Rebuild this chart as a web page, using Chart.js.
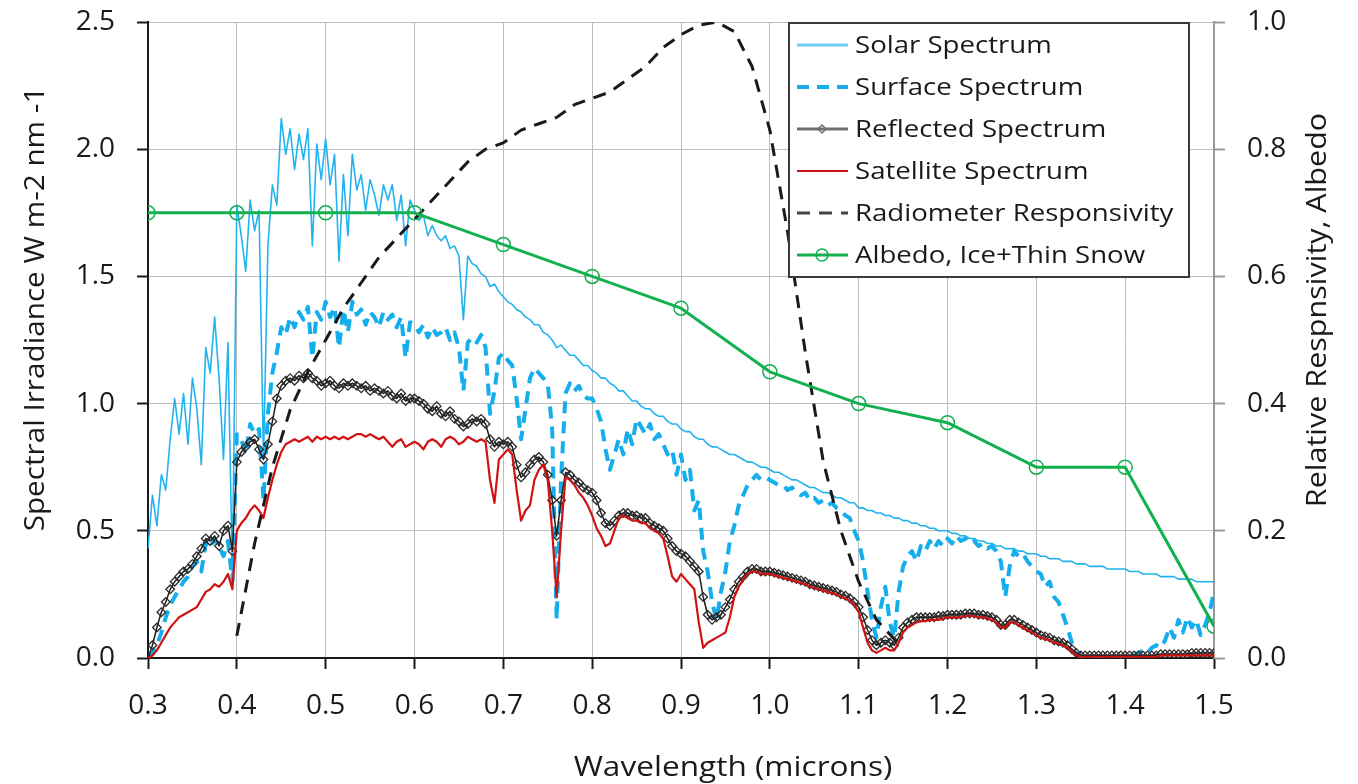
<!DOCTYPE html>
<html>
<head>
<meta charset="utf-8">
<title>Spectra</title>
<script src="https://cdn.jsdelivr.net/npm/chart.js@4.4.1/dist/chart.umd.min.js"></script>
<style>
    html, body { margin: 0; padding: 0; background: #fff; }
    #wrap { width: 1358px; height: 784px; }
</style>
</head>
<body>
<div id="wrap"><canvas id="myChart" width="1358" height="784"></canvas></div>
<script>
// wavelength grid (microns), 0.300 .. 1.500 every 0.005
const wavelengths = [];
for (let i = 0; i <= 240; i++) {
    wavelengths.push(Math.round((0.3 + i * 0.005) * 1000) / 1000);
}

// W m-2 nm-1, one row per 0.1 micron
const solarSpectrum = [
    0.43, 0.64, 0.52, 0.72, 0.66, 0.86, 1.02, 0.88, 1.04, 0.84, 1.10, 0.98, 0.76, 1.22, 1.12, 1.34, 1.10, 0.78, 1.24, 0.32,
    1.78, 1.66, 1.52, 1.80, 1.68, 1.76, 0.78, 1.62, 1.86, 1.78, 2.12, 1.98, 2.08, 1.92, 2.06, 1.96, 2.08, 1.62, 2.02, 1.88,
    2.04, 1.86, 1.98, 1.56, 1.90, 1.66, 1.98, 1.84, 1.90, 1.76, 1.88, 1.82, 1.74, 1.86, 1.80, 1.86, 1.72, 1.82, 1.62, 1.80,
    1.76, 1.72, 1.74, 1.66, 1.70, 1.66, 1.64, 1.66, 1.61, 1.62, 1.58, 1.33, 1.58, 1.55, 1.54, 1.51, 1.50, 1.46, 1.47, 1.44,
    1.42, 1.40, 1.39, 1.37, 1.36, 1.34, 1.33, 1.31, 1.31, 1.28, 1.27, 1.25, 1.22, 1.23, 1.21, 1.19, 1.19, 1.17, 1.15, 1.15,
    1.13, 1.12, 1.10, 1.10, 1.08, 1.07, 1.05, 1.05, 1.03, 1.01, 1.01, 0.99, 0.98, 0.98, 0.96, 0.95, 0.95, 0.93, 0.92, 0.92,
    0.90, 0.89, 0.89, 0.87, 0.86, 0.86, 0.84, 0.83, 0.83, 0.82, 0.81, 0.80, 0.80, 0.79, 0.78, 0.77, 0.77, 0.76, 0.75, 0.75,
    0.74, 0.73, 0.73, 0.72, 0.71, 0.70, 0.70, 0.69, 0.68, 0.67, 0.67, 0.66, 0.65, 0.65, 0.64, 0.63, 0.63, 0.62, 0.61, 0.61,
    0.59, 0.59, 0.58, 0.58, 0.57, 0.57, 0.56, 0.56, 0.55, 0.55, 0.54, 0.54, 0.53, 0.53, 0.52, 0.52, 0.51, 0.51, 0.50, 0.50,
    0.50, 0.49, 0.49, 0.48, 0.48, 0.47, 0.47, 0.46, 0.46, 0.45, 0.45, 0.44, 0.44, 0.43, 0.43, 0.43, 0.42, 0.42, 0.41, 0.41,
    0.41, 0.40, 0.40, 0.39, 0.39, 0.39, 0.38, 0.38, 0.38, 0.37, 0.37, 0.37, 0.36, 0.36, 0.36, 0.36, 0.35, 0.35, 0.35, 0.35,
    0.35, 0.34, 0.34, 0.34, 0.33, 0.33, 0.33, 0.33, 0.32, 0.32, 0.32, 0.32, 0.31, 0.31, 0.31, 0.31, 0.30, 0.30, 0.30, 0.30, 0.30
];

const surfaceSpectrum = [
    0.00, 0.02, 0.05, 0.10, 0.16, 0.21, 0.24, 0.27, 0.30, 0.32, 0.36, 0.38, 0.34, 0.45, 0.43, 0.47, 0.44, 0.40, 0.46, 0.30,
    0.88, 0.86, 0.80, 0.92, 0.88, 0.90, 0.62, 0.96, 1.12, 1.20, 1.30, 1.27, 1.34, 1.30, 1.36, 1.33, 1.38, 1.18, 1.36, 1.33,
    1.40, 1.34, 1.38, 1.22, 1.37, 1.28, 1.40, 1.35, 1.37, 1.31, 1.36, 1.34, 1.30, 1.36, 1.33, 1.35, 1.30, 1.34, 1.18, 1.32,
    1.31, 1.28, 1.31, 1.26, 1.30, 1.27, 1.28, 1.30, 1.25, 1.28, 1.22, 1.05, 1.24, 1.26, 1.24, 1.27, 1.22, 0.96, 1.05, 1.18,
    1.20, 1.17, 1.15, 1.02, 0.86, 0.98, 1.10, 1.14, 1.12, 1.10, 1.08, 0.90, 0.15, 0.70, 1.04, 1.08, 1.05, 1.07, 1.03, 1.02,
    1.02, 0.98, 0.93, 0.82, 0.74, 0.80, 0.86, 0.80, 0.90, 0.84, 0.94, 0.91, 0.88, 0.92, 0.86, 0.88, 0.84, 0.80, 0.82, 0.72,
    0.80, 0.70, 0.74, 0.58, 0.62, 0.42, 0.34, 0.22, 0.15, 0.26, 0.34, 0.46, 0.52, 0.60, 0.64, 0.68, 0.70, 0.72, 0.70, 0.71,
    0.70, 0.69, 0.68, 0.68, 0.66, 0.67, 0.65, 0.64, 0.65, 0.62, 0.63, 0.61, 0.62, 0.60, 0.61, 0.59, 0.58, 0.56, 0.55, 0.50,
    0.46, 0.38, 0.26, 0.15, 0.08, 0.20, 0.28, 0.14, 0.08, 0.26, 0.36, 0.40, 0.42, 0.38, 0.44, 0.42, 0.46, 0.43, 0.46, 0.44,
    0.47, 0.45, 0.48, 0.46, 0.47, 0.45, 0.46, 0.44, 0.45, 0.43, 0.44, 0.42, 0.38, 0.24, 0.36, 0.42, 0.40, 0.41, 0.38, 0.36,
    0.34, 0.33, 0.28, 0.30, 0.24, 0.22, 0.17, 0.12, 0.06, 0.02, 0.00, 0.00, 0.00, 0.00, 0.00, 0.00, 0.00, 0.00, 0.00, 0.00,
    0.00, 0.00, 0.01, 0.02, 0.03, 0.02, 0.04, 0.05, 0.04, 0.07, 0.12, 0.08, 0.15, 0.10, 0.16, 0.12, 0.15, 0.09, 0.13, 0.18, 0.26
];

const reflectedSpectrum = [
    0.00, 0.05, 0.12, 0.18, 0.22, 0.27, 0.30, 0.32, 0.34, 0.35, 0.37, 0.40, 0.43, 0.47, 0.46, 0.48, 0.44, 0.50, 0.52, 0.42,
    0.77, 0.81, 0.83, 0.85, 0.86, 0.82, 0.78, 0.84, 0.93, 1.02, 1.07, 1.09, 1.10, 1.09, 1.11, 1.10, 1.12, 1.10, 1.09, 1.07,
    1.08, 1.09, 1.07, 1.06, 1.08, 1.07, 1.08, 1.07, 1.06, 1.07, 1.05, 1.06, 1.05, 1.04, 1.05, 1.03, 1.02, 1.04, 1.01, 1.02,
    1.02, 1.01, 1.00, 0.98, 0.97, 0.99, 0.96, 0.95, 0.97, 0.94, 0.93, 0.91, 0.92, 0.94, 0.93, 0.94, 0.92, 0.86, 0.83, 0.85,
    0.84, 0.85, 0.83, 0.76, 0.71, 0.73, 0.76, 0.78, 0.79, 0.77, 0.72, 0.62, 0.48, 0.62, 0.73, 0.72, 0.70, 0.69, 0.67, 0.66,
    0.65, 0.62, 0.57, 0.53, 0.52, 0.54, 0.56, 0.57, 0.57, 0.56, 0.56, 0.55, 0.55, 0.53, 0.52, 0.51, 0.50, 0.47, 0.44, 0.42,
    0.41, 0.40, 0.38, 0.36, 0.34, 0.24, 0.17, 0.15, 0.16, 0.17, 0.20, 0.23, 0.27, 0.30, 0.32, 0.34, 0.35, 0.35, 0.34, 0.34,
    0.34, 0.335, 0.33, 0.325, 0.32, 0.315, 0.31, 0.305, 0.30, 0.29, 0.285, 0.28, 0.275, 0.27, 0.265, 0.26, 0.25, 0.245, 0.235, 0.22,
    0.20, 0.16, 0.11, 0.07, 0.05, 0.06, 0.07, 0.06, 0.05, 0.08, 0.12, 0.14, 0.15, 0.16, 0.16, 0.16, 0.16, 0.16, 0.165, 0.165,
    0.17, 0.17, 0.17, 0.17, 0.175, 0.175, 0.175, 0.17, 0.17, 0.165, 0.16, 0.15, 0.13, 0.13, 0.15, 0.15, 0.14, 0.13, 0.12, 0.11,
    0.10, 0.09, 0.085, 0.08, 0.07, 0.065, 0.06, 0.05, 0.035, 0.02, 0.01, 0.01, 0.01, 0.01, 0.01, 0.01, 0.01, 0.01, 0.01, 0.01,
    0.01, 0.01, 0.01, 0.01, 0.01, 0.01, 0.01, 0.01, 0.015, 0.015, 0.015, 0.015, 0.015, 0.015, 0.015, 0.02, 0.02, 0.02, 0.02, 0.02, 0.02
];

const satelliteSpectrum = [
    0.00, 0.01, 0.03, 0.06, 0.09, 0.12, 0.14, 0.16, 0.17, 0.18, 0.19, 0.20, 0.23, 0.26, 0.27, 0.29, 0.28, 0.30, 0.33, 0.27,
    0.50, 0.53, 0.55, 0.58, 0.60, 0.58, 0.55, 0.63, 0.70, 0.76, 0.81, 0.84, 0.85, 0.86, 0.85, 0.86, 0.87, 0.85, 0.87, 0.86,
    0.87, 0.86, 0.87, 0.86, 0.87, 0.86, 0.87, 0.88, 0.88, 0.87, 0.88, 0.87, 0.86, 0.87, 0.85, 0.83, 0.85, 0.86, 0.83, 0.84,
    0.85, 0.84, 0.82, 0.85, 0.86, 0.85, 0.83, 0.86, 0.87, 0.86, 0.84, 0.85, 0.87, 0.86, 0.85, 0.86, 0.85, 0.70, 0.61, 0.78,
    0.80, 0.82, 0.80, 0.66, 0.54, 0.58, 0.60, 0.70, 0.74, 0.76, 0.70, 0.50, 0.24, 0.50, 0.71, 0.70, 0.68, 0.65, 0.63, 0.60,
    0.56, 0.51, 0.48, 0.44, 0.45, 0.50, 0.55, 0.56, 0.55, 0.54, 0.54, 0.53, 0.53, 0.51, 0.50, 0.49, 0.47, 0.40, 0.32, 0.30,
    0.33, 0.31, 0.29, 0.27, 0.14, 0.04, 0.06, 0.07, 0.08, 0.09, 0.10, 0.16, 0.24, 0.28, 0.31, 0.33, 0.34, 0.34, 0.33, 0.33,
    0.33, 0.325, 0.32, 0.315, 0.31, 0.305, 0.30, 0.295, 0.29, 0.28, 0.275, 0.27, 0.265, 0.26, 0.255, 0.25, 0.24, 0.235, 0.225, 0.21,
    0.18, 0.12, 0.06, 0.03, 0.02, 0.03, 0.04, 0.03, 0.03, 0.06, 0.10, 0.12, 0.13, 0.14, 0.145, 0.145, 0.15, 0.15, 0.15, 0.155,
    0.16, 0.16, 0.16, 0.16, 0.165, 0.165, 0.165, 0.16, 0.16, 0.155, 0.15, 0.14, 0.12, 0.12, 0.14, 0.14, 0.13, 0.12, 0.11, 0.10,
    0.09, 0.08, 0.075, 0.07, 0.06, 0.055, 0.05, 0.04, 0.025, 0.01, 0.005, 0.005, 0.005, 0.005, 0.005, 0.005, 0.005, 0.005, 0.005, 0.005,
    0.005, 0.005, 0.005, 0.005, 0.005, 0.005, 0.005, 0.005, 0.01, 0.01, 0.01, 0.01, 0.01, 0.01, 0.01, 0.01, 0.01, 0.01, 0.01, 0.01, 0.01
];

// right axis (0..1)
const radiometerWl = [
    0.40, 0.42, 0.44, 0.46, 0.48, 0.50, 0.52, 0.54, 0.56, 0.58, 0.60, 0.62, 0.64, 0.66, 0.68, 0.70, 0.72, 0.74, 0.76, 0.78,
    0.80, 0.82, 0.84, 0.86, 0.88, 0.90, 0.92, 0.94, 0.96, 0.98, 1.00, 1.02, 1.04, 1.06, 1.08, 1.10, 1.12, 1.14, 1.15
];
const radiometerResp = [
    0.035, 0.18, 0.30, 0.39, 0.45, 0.50, 0.55, 0.59, 0.63, 0.66, 0.69, 0.72, 0.75, 0.78, 0.80, 0.81, 0.83, 0.84, 0.85, 0.87,
    0.88, 0.89, 0.91, 0.93, 0.96, 0.98, 0.995, 1.00, 0.985, 0.93, 0.83, 0.67, 0.48, 0.31, 0.20, 0.12, 0.06, 0.03, 0.02
];

const albedoWl = [0.3, 0.4, 0.5, 0.6, 0.7, 0.8, 0.9, 1.0, 1.1, 1.2, 1.3, 1.4, 1.5];
const albedo = [0.70, 0.70, 0.70, 0.70, 0.65, 0.60, 0.55, 0.45, 0.40, 0.37, 0.30, 0.30, 0.05];

const xTickValues = [0.3, 0.4, 0.5, 0.6, 0.7, 0.8, 0.9, 1.0, 1.1, 1.2, 1.3, 1.4, 1.5];
const yTickValues = [0, 0.5, 1.0, 1.5, 2.0, 2.5];
const y1TickValues = [0, 0.2, 0.4, 0.6, 0.8, 1.0];

const seriesLabels = ['Solar Spectrum', 'Surface Spectrum', 'Reflected Spectrum',
    'Satellite Spectrum', 'Radiometer Responsivity', 'Albedo, Ice+Thin Snow'];

const FONT = '"Open Sans", "DejaVu Sans", sans-serif';

function toPoints(xs, ys) {
    return xs.map((x, i) => ({ x: x, y: ys[i] }));
}

// text a little wider than the font, the original is stretched sideways
function wideText(ctx, text, x, y, stretch) {
    ctx.save();
    ctx.translate(x, y);
    ctx.scale(stretch, 1);
    ctx.fillText(text, 0, 0);
    ctx.restore();
}

// legend drawn inside the plot, top right, like the original
const legendInside = {
    id: 'legendInside',
    afterDatasetsDraw(chart) {
        const { ctx, chartArea } = chart;
        const left = chartArea.right - 425;
        const top = chartArea.top + 1;
        const w = 400, h = 254;

        ctx.save();
        ctx.fillStyle = '#fff';
        ctx.fillRect(left, top, w, h);
        ctx.strokeStyle = '#3a3a3a';
        ctx.lineWidth = 2;
        ctx.strokeRect(left, top, w, h);

        ctx.font = '23px ' + FONT;
        ctx.textBaseline = 'middle';
        ctx.textAlign = 'left';

        chart.data.datasets.forEach((ds, i) => {
            const y = top + 22 + i * 42;
            ctx.strokeStyle = ds.legendColor || ds.borderColor;
            ctx.lineWidth = ds.legendWidth || ds.borderWidth;
            ctx.setLineDash(ds.borderDash || []);
            ctx.beginPath();
            ctx.moveTo(left + 8, y);
            ctx.lineTo(left + 59, y);
            ctx.stroke();
            ctx.setLineDash([]);

            if (ds.pointStyle === 'rectRot') {
                ctx.lineWidth = 1.5;
                ctx.beginPath();
                ctx.moveTo(left + 33, y - 4);
                ctx.lineTo(left + 37, y);
                ctx.lineTo(left + 33, y + 4);
                ctx.lineTo(left + 29, y);
                ctx.closePath();
                ctx.stroke();
            } else if (ds.pointStyle === 'circle') {
                ctx.lineWidth = 1.5;
                ctx.beginPath();
                ctx.arc(left + 33, y, 6, 0, Math.PI * 2);
                ctx.stroke();
            }

            ctx.fillStyle = '#1a1a1a';
            wideText(ctx, ds.label, left + 66, y + 1, 1.2);
        });
        ctx.restore();
    }
};

// axis titles
const axisTitles = {
    id: 'axisTitles',
    afterDraw(chart) {
        const { ctx } = chart;
        ctx.save();
        ctx.fillStyle = '#1a1a1a';
        ctx.font = '27px ' + FONT;
        ctx.textAlign = 'center';
        ctx.textBaseline = 'middle';

        wideText(ctx, 'Wavelength (microns)', 733, 768, 1.17);

        ctx.save();
        ctx.translate(36, 309);
        ctx.rotate(-Math.PI / 2);
        wideText(ctx, 'Spectral Irradiance W m-2 nm -1', 0, 0, 1.1);
        ctx.restore();

        ctx.save();
        ctx.translate(1318, 310);
        ctx.rotate(-Math.PI / 2);
        wideText(ctx, 'Relative Respnsivity, Albedo', 0, 0, 1.13);
        ctx.restore();

        ctx.restore();
    }
};

// fixed axis boxes so the plot sits where the original has it
function fitVertical(width) {
    return (s) => {
        s.width = width;
        s.paddingTop = 0;
        s.paddingBottom = 0;
    };
}

function initChart() {
    const ctx = document.getElementById('myChart');
    const tickFont = { family: FONT, size: 28 };

    const myChart = new Chart(ctx, {
        type: 'line',
        data: {
            datasets: [{
                label: seriesLabels[0],
                data: toPoints(wavelengths, solarSpectrum),
                borderColor: '#22b3ee',
                legendColor: '#6ccdf3',
                legendWidth: 3,
                borderWidth: 1.6,
                pointRadius: 0,
                yAxisID: 'y',
                order: 6
            }, {
                label: seriesLabels[1],
                data: toPoints(wavelengths, surfaceSpectrum),
                borderColor: '#14aeec',
                borderWidth: 4,
                borderDash: [12, 8],
                pointRadius: 0,
                yAxisID: 'y',
                order: 5
            }, {
                label: seriesLabels[2],
                data: toPoints(wavelengths, reflectedSpectrum),
                borderColor: '#1e1e1e',
                legendColor: '#707070',
                legendWidth: 3,
                borderWidth: 1.5,
                pointStyle: 'rectRot',
                pointRadius: 4.3,
                pointBorderWidth: 1.3,
                pointBorderColor: '#2a2a2a',
                pointBackgroundColor: 'rgba(255,255,255,0)',
                yAxisID: 'y',
                order: 4
            }, {
                label: seriesLabels[3],
                data: toPoints(wavelengths, satelliteSpectrum),
                borderColor: '#d01212',
                borderWidth: 2.2,
                pointRadius: 0,
                yAxisID: 'y',
                order: 3
            }, {
                label: seriesLabels[4],
                data: toPoints(radiometerWl, radiometerResp),
                borderColor: '#1a1a1a',
                legendColor: '#444',
                borderWidth: 3,
                borderDash: [13, 9],
                pointRadius: 0,
                yAxisID: 'y1',
                order: 2
            }, {
                label: seriesLabels[5],
                data: toPoints(albedoWl, albedo),
                borderColor: '#13b04f',
                borderWidth: 3,
                pointStyle: 'circle',
                pointRadius: 7,
                pointBorderWidth: 1.5,
                pointBorderColor: '#13b04f',
                pointBackgroundColor: 'rgba(255,255,255,0)',
                yAxisID: 'y1',
                order: 1
            }]
        },
        options: {
            responsive: false,
            animation: false,
            layout: {
                padding: { top: 22, left: 0, right: 0, bottom: 0 }
            },
            elements: {
                line: { tension: 0, borderJoinStyle: 'round' }
            },
            scales: {
                x: {
                    type: 'linear',
                    min: 0.3,
                    max: 1.5,
                    afterBuildTicks: (s) => { s.ticks = xTickValues.map(v => ({ value: v })); },
                    afterFit: (s) => {
                        s.height = 126;
                        s.paddingLeft = 0;
                        s.paddingRight = 0;
                    },
                    ticks: {
                        callback: (v) => Number(v).toFixed(1),
                        font: tickFont,
                        color: '#1a1a1a',
                        padding: 20,
                        maxRotation: 0,
                        autoSkip: false
                    },
                    grid: {
                        color: '#bdbdbd',
                        lineWidth: 1,
                        tickColor: '#1a1a1a',
                        tickLength: 11,
                        tickWidth: 2
                    },
                    border: { color: '#1a1a1a', width: 2 }
                },
                y: {
                    position: 'left',
                    min: 0,
                    max: 2.5,
                    afterBuildTicks: (s) => { s.ticks = yTickValues.map(v => ({ value: v })); },
                    afterFit: fitVertical(148),
                    ticks: {
                        callback: (v) => Number(v).toFixed(1),
                        font: tickFont,
                        color: '#1a1a1a',
                        padding: 22
                    },
                    grid: {
                        color: '#bdbdbd',
                        lineWidth: 1,
                        tickColor: '#1a1a1a',
                        tickLength: 11,
                        tickWidth: 2
                    },
                    border: { color: '#1a1a1a', width: 2 }
                },
                y1: {
                    position: 'right',
                    min: 0,
                    max: 1,
                    afterBuildTicks: (s) => { s.ticks = y1TickValues.map(v => ({ value: v })); },
                    afterFit: fitVertical(144),
                    ticks: {
                        callback: (v) => Number(v).toFixed(1),
                        font: tickFont,
                        color: '#1a1a1a',
                        padding: 22
                    },
                    grid: {
                        drawOnChartArea: false,
                        tickColor: '#9a9a9a',
                        tickLength: 11,
                        tickWidth: 2
                    },
                    border: { color: '#9a9a9a', width: 2 }
                }
            },
            plugins: {
                legend: { display: false },
                title: { display: false },
                tooltip: { enabled: false }
            }
        },
        plugins: [legendInside, axisTitles]
    });
}

initChart();
</script>
</body>
</html>
